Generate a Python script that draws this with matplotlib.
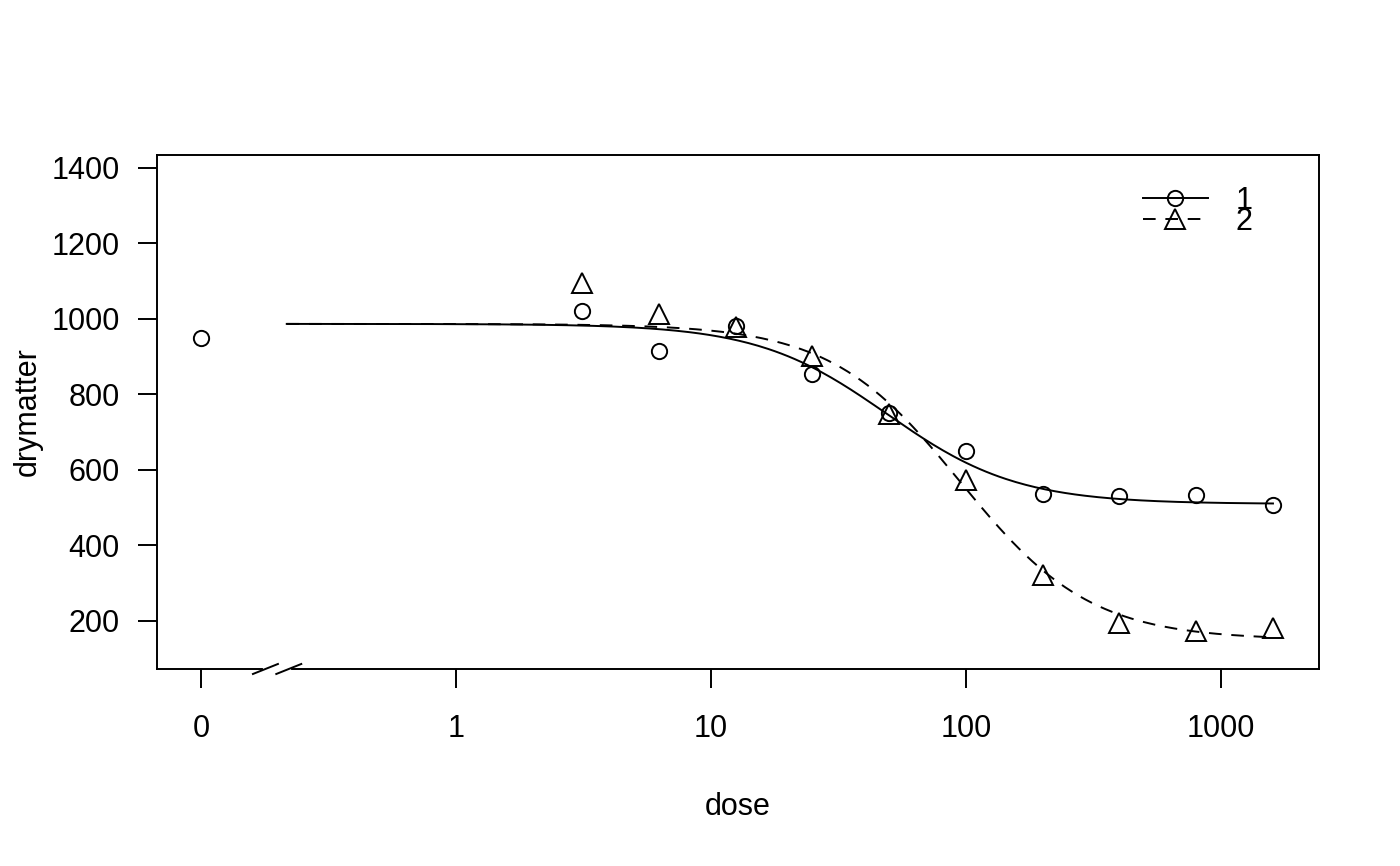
import numpy as np
import matplotlib.pyplot as plt
import matplotlib.transforms as mtransforms

plt.rcParams['font.family'] = ['Liberation Sans', 'DejaVu Sans']

# observed dry matter for the two curves
dose = [3.125, 6.25, 12.5, 25, 50, 100, 200, 400, 800, 1600]
dry1 = [1022, 916, 982, 853, 750, 649, 536, 530, 533, 506]
dry2 = [1096, 1014, 980, 903, 747, 573, 321, 195, 173, 181]
ctrl_dose = [0]
ctrl1 = [950]

# fitted log-logistic parameters: b, c, d, e
fit1 = [1.7, 510, 987, 49]
fit2 = [1.7, 150, 987, 95]

zero_pos = 0.1          # dose 0 drawn here on the log axis
breaks = [0.179, 0.221]  # axis break marks
curve_from, curve_to = 0.217, 1600

xticks = [0.1, 1, 10, 100, 1000]
xticklabels = ['0', '1', '10', '100', '1000']
yticks = [200, 400, 600, 800, 1000, 1200, 1400]


def ll4(x, b, c, d, e):
    return c + (d - c) / (1 + np.exp(b * (np.log(x) - np.log(e))))


fig = plt.figure(figsize=(14, 8.66), dpi=100)
ax = fig.add_subplot(111)
fig.subplots_adjust(left=0.1121, right=0.9421, top=0.8210, bottom=0.2275)

ax.set_xscale('log')
xx = np.geomspace(curve_from, curve_to, 300)

ax.plot(xx, ll4(xx, *fit1), color='black', lw=1.4)
ax.plot(xx, ll4(xx, *fit2), color='black', lw=1.4, dashes=(6.5, 5))

mk = dict(mfc='none', mec='black', mew=1.4, ls='none')
ax.plot([zero_pos if d == 0 else d for d in ctrl_dose], ctrl1, marker='o', ms=11, **mk)
ax.plot(dose, dry1, marker='o', ms=11, **mk)
ax.plot(dose, dry2, marker='^', ms=14, **mk)

# legend handles
h1, = ax.plot([], [], color='black', lw=1.4, marker='o', ms=11, mfc='none', mec='black', mew=1.4)
h2, = ax.plot([], [], color='black', lw=1.4, dashes=(6.5, 5), marker='^', ms=14, mfc='none', mec='black', mew=1.4)
ax.legend([h1, h2], ['1', '2'], loc='upper left', bbox_to_anchor=(0.8485, 0.94),
          frameon=False, fontsize=22, numpoints=1, handlelength=2.13,
          handletextpad=0.9, labelspacing=-0.3, borderpad=0, borderaxespad=0)

ax.set_xlim(0.0672, 2423)
ax.set_ylim(72.8, 1434.4)
ax.set_xticks(xticks)
ax.set_xticklabels(xticklabels)
ax.minorticks_off()
ax.set_yticks(yticks)

for s in ax.spines.values():
    s.set_linewidth(1.4)
ax.tick_params(axis='both', labelsize=22, length=13.7, width=1.4)
ax.tick_params(axis='x', pad=18.5)
ax.tick_params(axis='y', pad=13)

ax.set_xlabel('dose', fontsize=22, labelpad=35)
ax.set_ylabel('drymatter', fontsize=22, labelpad=6)

# axis break
trans = mtransforms.blended_transform_factory(ax.transData, ax.transAxes)
ax.plot(breaks, [0, 0], color='white', lw=3, transform=trans, clip_on=False, zorder=5)
for b in breaks:
    ax.plot([b / 10**0.049, b * 10**0.049], [-0.00973, 0.00973], color='black',
            lw=1.4, transform=trans, clip_on=False, zorder=6)

fig.savefig('out.png', dpi=100)
